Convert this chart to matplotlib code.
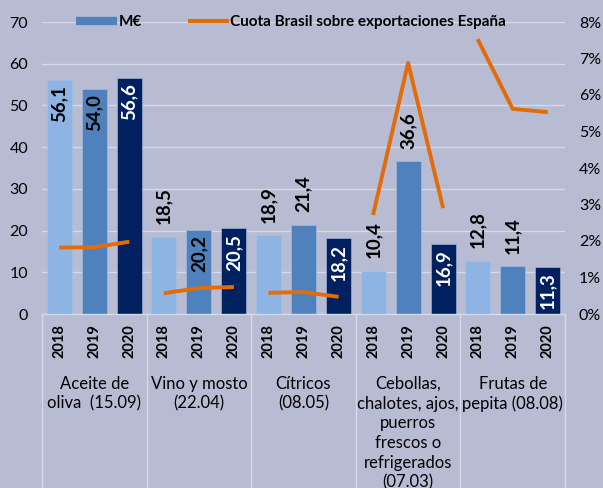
import numpy as np
import matplotlib
matplotlib.use("Agg")
import matplotlib.pyplot as plt
from matplotlib.lines import Line2D

plt.rcParams['font.family'] = ['Lato', 'DejaVu Sans']

# data
categories = ["Aceite de\noliva  (15.09)", "Vino y mosto\n(22.04)", "Cítricos\n(08.05)",
              "Cebollas,\nchalotes, ajos,\npuerros\nfrescos o\nrefrigerados\n(07.03)",
              "Frutas de\npepita (08.08)"]
years = ["2018", "2019", "2020"]
v2018 = [56.1, 18.5, 18.9, 10.4, 12.8]
v2019 = [54.0, 20.2, 21.4, 36.6, 11.4]
v2020 = [56.6, 20.5, 18.2, 16.9, 11.3]
# cuota Brasil (%)
cuota = [[1.82, 1.83, 1.98],
         [0.57, 0.71, 0.74],
         [0.58, 0.60, 0.47],
         [2.71, 6.88, 2.90],
         [7.53, 5.62, 5.53]]
# where each data label sits: inside top of bar or above it
label_pos = [["in", "in", "in"],
             ["out", "in", "in"],
             ["out", "out", "in"],
             ["out", "out", "in"],
             ["out", "out", "in"]]

bg = "#B7BCD3"
grid_c = "#D6D9E6"
colors = ["#8DB4E2", "#4F81BD", "#002060"]
orange = "#E36C0A"

fig = plt.figure(figsize=(6.03, 4.88), dpi=100, facecolor=bg)
ax = fig.add_axes([42/603, 1-314/488, (565-42)/603, (314-22)/488])
ax.set_facecolor(bg)
ax2 = ax.twinx()

off = 0.335
w = 0.24
vals = [v2018, v2019, v2020]
for j in range(3):
    xs = np.arange(5) + (j-1)*off
    ax.bar(xs, vals[j], width=w, color=colors[j], edgecolor="#A9C0E0", linewidth=0.4, zorder=2)

ax.set_xlim(-0.5, 4.5)
ax.set_ylim(0, 70)
ax.set_yticks(range(0, 71, 10))
ax.set_xticks([])
ax.grid(axis='y', color=grid_c, linewidth=1)
ax.set_axisbelow(True)
for s in ax.spines.values():
    s.set_visible(False)
for s in ax2.spines.values():
    s.set_visible(False)
ax.tick_params(axis='y', length=0, pad=10, labelsize=11.5)

ax2.set_ylim(0, 0.08)
ax2.set_yticks(np.arange(0, 0.081, 0.01))
ax2.set_yticklabels([f"{int(round(t*100))}%" for t in np.arange(0, 0.081, 0.01)])
ax2.tick_params(axis='y', length=0, pad=10, labelsize=11.5)

for i in range(5):
    xs = i + (np.arange(3)-1)*off
    ax2.plot(xs, np.array(cuota[i])/100, color=orange, linewidth=2.8, zorder=3,
             solid_capstyle='butt')

# data labels
for i in range(5):
    for j in range(3):
        v = vals[j][i]
        x = i + (j-1)*off
        txt = f"{v:.1f}".replace(".", ",")
        if label_pos[i][j] == "in":
            c = "white" if j == 2 else "black"
            ax.annotate(txt, (x, v), xytext=(0, -4), textcoords='offset points',
                        rotation=90, ha='center', va='top', fontsize=13.5,
                        fontweight='bold', color=c, zorder=5)
        else:
            ax.annotate(txt, (x, v), xytext=(0, 9), textcoords='offset points',
                        rotation=90, ha='center', va='bottom', fontsize=13.5,
                        fontweight='bold', color='black', zorder=5)

# category axis below
tr = ax.get_xaxis_transform()
ax.plot([-0.5, 4.5], [0, 0], color=grid_c, linewidth=1, transform=tr, clip_on=False)
for k in range(6):
    ax.plot([k-0.5, k-0.5], [0, -174/292], color=grid_c, linewidth=1,
            transform=tr, clip_on=False)
for i in range(5):
    for j in range(3):
        ax.text(i + (j-1)*off, -10/292, years[j], transform=tr, rotation=90,
                ha='center', va='top', fontsize=10.5, fontweight='bold')
    ax.text(i, -62/292, categories[i], transform=tr, ha='center', va='top',
            fontsize=12, linespacing=1.28)

handles = [Line2D([], [], color=colors[1], linewidth=6, solid_capstyle='butt'),
           Line2D([], [], color=orange, linewidth=3, solid_capstyle='butt')]
fig.legend(handles, ["M€", "Cuota Brasil sobre exportaciones España"], ncol=2,
           loc='center', bbox_to_anchor=(291/603, 1-22/488), frameon=False,
           handlelength=2.7, columnspacing=3.0, handletextpad=0.1,
           prop={'weight': 'bold', 'size': 11})

fig.savefig("out.png", dpi=100, facecolor=bg)
